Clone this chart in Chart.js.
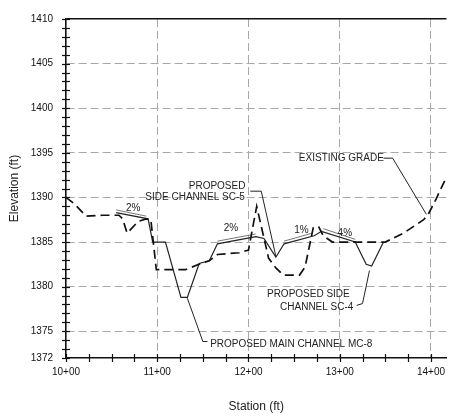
<!DOCTYPE html>
<html><head><meta charset="utf-8">
<script src="https://cdn.jsdelivr.net/npm/chart.js@4"></script>
<style>html,body{margin:0;padding:0;background:#fff}</style>
</head><body>
<canvas id="c" width="453" height="417"></canvas>
<script>
// ---- data (station in ft, elevation in ft) ----
const existingStations = [1000,1009,1022,1040,1058,1062,1067,1079,1088,1093,1099,1131,1148,1157,1166,1190,1200,1209,1222,1230,1238,1256,1262,1271,1277,1282,1292,1350,1370,1392,1397,1406,1417];
const existingElev     = [1390.0,1389.3,1387.9,1388.0,1388.0,1387.6,1386.0,1387.3,1387.6,1387.5,1381.9,1381.9,1382.6,1382.9,1383.6,1383.8,1384.1,1389.0,1383.2,1382.1,1381.3,1381.3,1382.2,1386.6,1386.7,1385.7,1385.0,1385.0,1386.0,1387.5,1388.1,1389.9,1392.3];

const proposedStations = [1055,1090,1095,1109,1126,1133,1146,1157,1166,1208,1217,1230,1239,1272,1280,1317,1329,1335,1348];
const proposedElev     = [1388.3,1387.6,1385.0,1385.0,1378.8,1378.8,1382.6,1382.9,1384.8,1385.6,1385.4,1383.3,1384.8,1385.7,1386.2,1385.0,1382.5,1382.3,1385.0];

// upper edge of the double (sloped) proposed lines; null breaks segments
const proposedTopStations = [1055,1088,null,1166,1208,null,1239,1270,null,1282,1317];
const proposedTopElev     = [1388.6,1387.9,null,1385.1,1385.9,null,1385.1,1386.0,null,1386.5,1385.3];

const yTickValues = [1372,1375,1380,1385,1390,1395,1400,1405,1410];
const xTickValues = [1000,1100,1200,1300,1400];
const xTickLabels = ['10+00','11+00','12+00','13+00','14+00'];

// annotations (data coordinates)
const noteTexts = [
  {t:'2%', x:1073.7, y:1388.8, a:'center'},
  {t:'2%', x:1180.7, y:1386.6, a:'center'},
  {t:'1%', x:1258, y:1386.3, a:'center'},
  {t:'4%', x:1305.6, y:1386.0, a:'center'},
  {t:'PROPOSED', x:1165.6, y:1391.3, a:'center'},
  {t:'SIDE CHANNEL SC-5', x:1196, y:1390.0, a:'right'},
  {t:'EXISTING GRADE', x:1255.2, y:1394.4, a:'left'},
  {t:'PROPOSED SIDE', x:1311, y:1379.1, a:'right'},
  {t:'CHANNEL SC-4', x:1315, y:1377.7, a:'right'},
  {t:'PROPOSED MAIN CHANNEL MC-8', x:1158, y:1373.55, a:'left'}
];
const leaderLines = [
  [[1202,1390.7],[1214,1390.7],[1230,1383.4]],
  [[1348,1394.4],[1358,1394.4],[1395,1388.1]],
  [[1318.6,1377.9],[1325,1378.1],[1332.6,1381.8]],
  [[1155,1373.85],[1150,1373.85],[1133,1378.7]]
];

const toXY = (xs, ys) => xs.map((x, i) => ({x: x === null ? NaN : x, y: ys[i]}));

const decor = {
  id: 'decor',
  afterDatasetsDraw(chart) {
    const {ctx} = chart;
    const xs = chart.scales.x, ys = chart.scales.y;
    ctx.save();
    // minor tick crosses
    ctx.strokeStyle = '#111'; ctx.lineWidth = 1.2;
    const ax = xs.left, ay = ys.bottom;
    for (let v = 1372; v <= 1410; v++) {
      const py = Math.round(ys.getPixelForValue(v)) + 0.5;
      ctx.beginPath(); ctx.moveTo(ax - 4, py); ctx.lineTo(ax + 4, py); ctx.stroke();
    }
    for (let s = 1000; s <= 1410; s += 25) {
      const px = Math.round(xs.getPixelForValue(s)) + 0.5;
      ctx.beginPath(); ctx.moveTo(px, ay - 4); ctx.lineTo(px, ay + 4); ctx.stroke();
    }
    // leaders
    ctx.strokeStyle = '#222'; ctx.lineWidth = 1;
    leaderLines.forEach(pts => {
      ctx.beginPath();
      pts.forEach((p, i) => {
        const px = xs.getPixelForValue(p[0]), py = ys.getPixelForValue(p[1]);
        if (i === 0) ctx.moveTo(px, py); else ctx.lineTo(px, py);
      });
      ctx.stroke();
    });
    // texts
    ctx.fillStyle = '#222';
    ctx.font = '10px "Liberation Sans", Arial, sans-serif';
    ctx.textBaseline = 'middle';
    noteTexts.forEach(n => {
      ctx.textAlign = n.a;
      ctx.fillText(n.t, xs.getPixelForValue(n.x), ys.getPixelForValue(n.y));
    });
    ctx.restore();
  }
};

new Chart(document.getElementById('c'), {
  type: 'line',
  data: {
    datasets: [
      {label:'Existing Grade', data: toXY(existingStations, existingElev), borderColor:'#111', borderWidth:1.7, borderDash:[9,5], pointRadius:0, fill:false, tension:0},
      {label:'Proposed', data: toXY(proposedStations, proposedElev), borderColor:'#222', borderWidth:1.2, pointRadius:0, fill:false, tension:0},
      {label:'Proposed top', data: toXY(proposedTopStations, proposedTopElev), borderColor:'#555', borderWidth:0.8, pointRadius:0, fill:false, tension:0, spanGaps:false}
    ]
  },
  options: {
    responsive: false,
    animation: false,
    devicePixelRatio: 1,
    layout: {padding: {top: 13, right: 0, left: 0, bottom: 0}},
    plugins: {legend: {display: false}, tooltip: {enabled: false}},
    scales: {
      x: {
        type: 'linear', min: 1000, max: 1417,
        afterBuildTicks: s => { s.ticks = xTickValues.map(v => ({value: v})); },
        afterFit: s => { s.height = 59; },
        ticks: {
          padding: 8, maxRotation: 0, autoSkip: false, color: '#111',
          font: {family: '"Liberation Sans", Arial, sans-serif', size: 10},
          callback: v => { const i = xTickValues.indexOf(v); return i >= 0 ? xTickLabels[i] : ''; }
        },
        grid: {
          drawTicks: false,
          color: c => (c.tick && c.tick.value === 1000) ? 'rgba(0,0,0,0)' : '#a8a8a8',
          lineWidth: 1
        },
        border: {display: true, color: '#111', width: 1.6, dash: [8,4]},
        title: {display: true, text: 'Station (ft)', color: '#222',
          font: {family: '"Liberation Sans", Arial, sans-serif', size: 12}, padding: {top: 0, bottom: 3}}
      },
      y: {
        type: 'linear', min: 1372, max: 1410,
        afterBuildTicks: s => { s.ticks = yTickValues.map(v => ({value: v})); },
        afterFit: s => { s.width = 66; },
        ticks: {
          padding: 13, color: '#111',
          font: {family: '"Liberation Sans", Arial, sans-serif', size: 10},
          callback: v => String(v)
        },
        grid: {
          drawTicks: false,
          color: c => {
            const v = c.tick && c.tick.value;
            if (v === 1372) return 'rgba(0,0,0,0)';
            if (v === 1410) return '#111';
            return '#a8a8a8';
          },
          lineWidth: c => (c.tick && c.tick.value === 1410) ? 1.6 : 1
        },
        border: {display: true, color: '#111', width: 1.6,
          dash: c => (c.tick && c.tick.value === 1410) ? [] : [8,4]},
        title: {display: true, text: 'Elevation (ft)', color: '#222',
          font: {family: '"Liberation Sans", Arial, sans-serif', size: 12}, padding: {top: 7, bottom: 0}}
      }
    }
  },
  plugins: [decor]
});
</script>
</body></html>
